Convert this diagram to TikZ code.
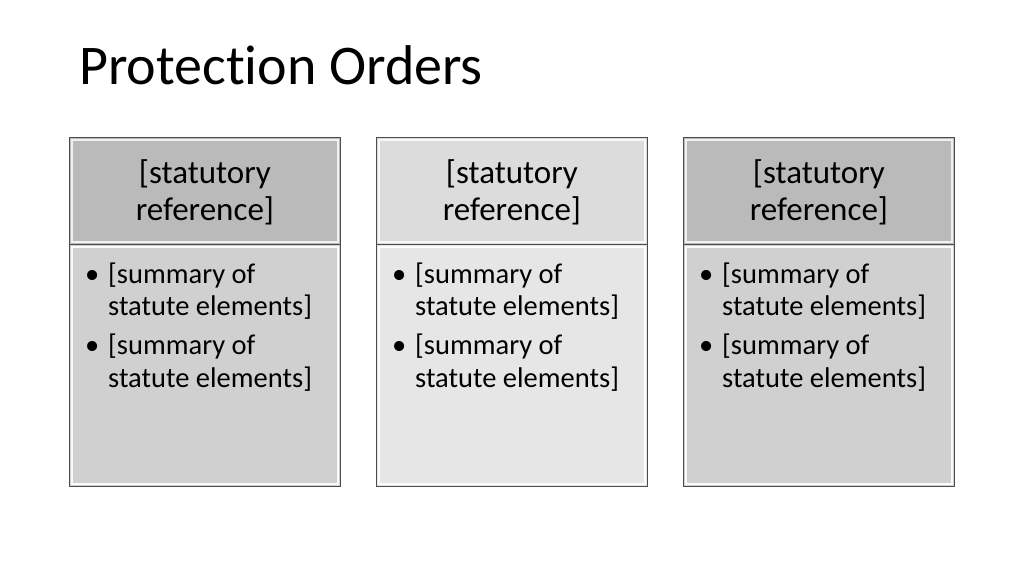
\documentclass[tikz,border=0pt]{standalone}
\usepackage{fontspec}
\setmainfont{Carlito}[Ligatures={NoCommon}]
\definecolor{hdA}{HTML}{BABABA}
\definecolor{bdA}{HTML}{D0D0D0}
\definecolor{hdB}{HTML}{DCDCDC}
\definecolor{bdB}{HTML}{E6E6E6}
\tikzset{
 hdbox/.style={draw=black!70, line width=0.8pt, minimum width=271pt, minimum height=107pt, anchor=north west, inner sep=0pt},
 bdbox/.style={draw=black!70, line width=0.8pt, minimum width=271pt, minimum height=242pt, anchor=north west, inner sep=0pt},
 bl/.style={anchor=base west, font=\fontsize{28.5}{32}\selectfont, inner sep=0pt}
}
\begin{document}
\begin{tikzpicture}[x=1pt,y=-1pt]
\useasboundingbox[fill=white] (0,0) rectangle (1024,576);
\node[anchor=base west, font=\fontsize{56}{60}\selectfont, inner sep=0pt] (title) at (79,84) {Protection Orders};
\foreach \i/\x/\h/\b in {1/69/hdA/bdA, 2/376/hdB/bdB, 3/683/hdA/bdA}{
  \node[bdbox, fill=\b] (b\i) at (\x,244) {};
  \draw[white!92!\b, line width=1.5pt] ([shift={(3,3)}]b\i.north west) rectangle ([shift={(-3,-3)}]b\i.south east);
  \node[hdbox, fill=\h] (h\i) at (\x,137) {};
  \draw[white!80!\h, line width=1.5pt] ([shift={(3,3)}]h\i.north west) rectangle ([shift={(-3,-3)}]h\i.south east);
  \node[align=center, font=\fontsize{33}{37}\selectfont, inner sep=0pt] (ht\i) at ([yshift=-1]h\i.center) {[statutory\\reference]};
  \node[bl] (p\i) at (\x+16,283) {\textbullet};
  \node[bl] (a\i) at (\x+39,283) {[summary of};
  \node[bl] (c\i) at (\x+39,315) {statute elements]};
  \node[bl] (q\i) at (\x+16,354) {\textbullet};
  \node[bl] (d\i) at (\x+39,354) {[summary of};
  \node[bl] (e\i) at (\x+39,387) {statute elements]};
}
\end{tikzpicture}
\end{document}
